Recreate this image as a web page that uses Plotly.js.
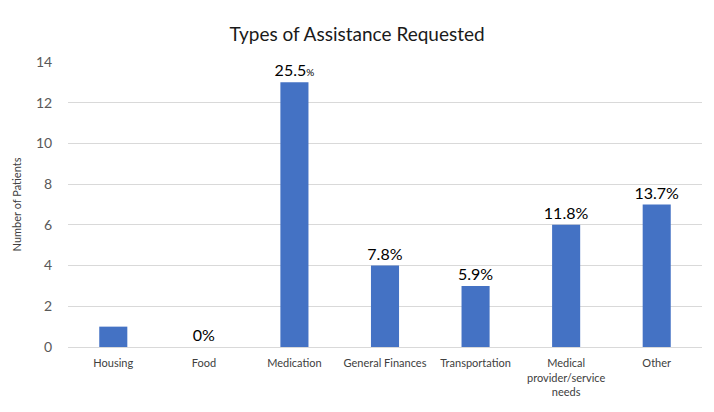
<!DOCTYPE html>
<html>
<head>
<meta charset="utf-8">
<script src="https://cdn.plot.ly/plotly-3.0.1.min.js"></script>
<style>html,body{margin:0;padding:0;background:#fff;}#chart{width:714px;height:412px;}</style>
</head>
<body>
<div id="chart"></div>
<script>
const categories = ["Housing", "Food", "Medication", "General Finances", "Transportation", "Medical<br>provider/service<br>needs", "Other"];
const patients = [1, 0, 13, 4, 3, 6, 7];
const pctLabels = ["", "0%", "25.5<span style='font-size:10px'>%</span>", "7.8%", "5.9%", "11.8%", "13.7%"];
const yTicks = [0, 2, 4, 6, 8, 10, 12, 14];

const trace = {
  type: "bar",
  x: categories,
  y: patients,
  text: pctLabels,
  textposition: "outside",
  constraintext: "none",
  cliponaxis: false,
  textfont: {family: "Lato, 'Noto Sans', sans-serif", size: 16, color: "#000"},
  marker: {color: "#4472C4"},
  width: 0.31,
  hoverinfo: "none"
};

const layout = {
  width: 714, height: 412,
  margin: {l: 68, r: 12, t: 62, b: 65},
  paper_bgcolor: "#fff", plot_bgcolor: "#fff",
  font: {family: "Lato, 'Noto Sans', sans-serif", color: "#595959"},
  title: {text: "Types of Assistance Requested", font: {size: 19, color: "#1a1a1a"}, x: 0.5, xanchor: "center", y: 0.917, yanchor: "middle"},
  showlegend: false,
  xaxis: {
    type: "category",
    tickfont: {size: 11, color: "#404040"},
    showgrid: false, zeroline: false, showline: false,
    ticks: "outside", ticklen: 6, tickcolor: "rgba(0,0,0,0)",
    automargin: false
  },
  yaxis: {
    range: [0, 14],
    tickvals: yTicks,
    tickfont: {size: 14, color: "#595959"},
    gridcolor: "#d9d9d9", gridwidth: 1,
    zeroline: true, zerolinecolor: "#d9d9d9", zerolinewidth: 1,
    showline: false, ticks: "outside", ticklen: 12, tickcolor: "rgba(0,0,0,0)",
    title: {text: "Number of Patients", font: {size: 11, color: "#404040"}, standoff: 12},
    automargin: false
  }
};

Plotly.newPlot("chart", [trace], layout, {staticPlot: true, displayModeBar: false});
</script>
</body>
</html>
